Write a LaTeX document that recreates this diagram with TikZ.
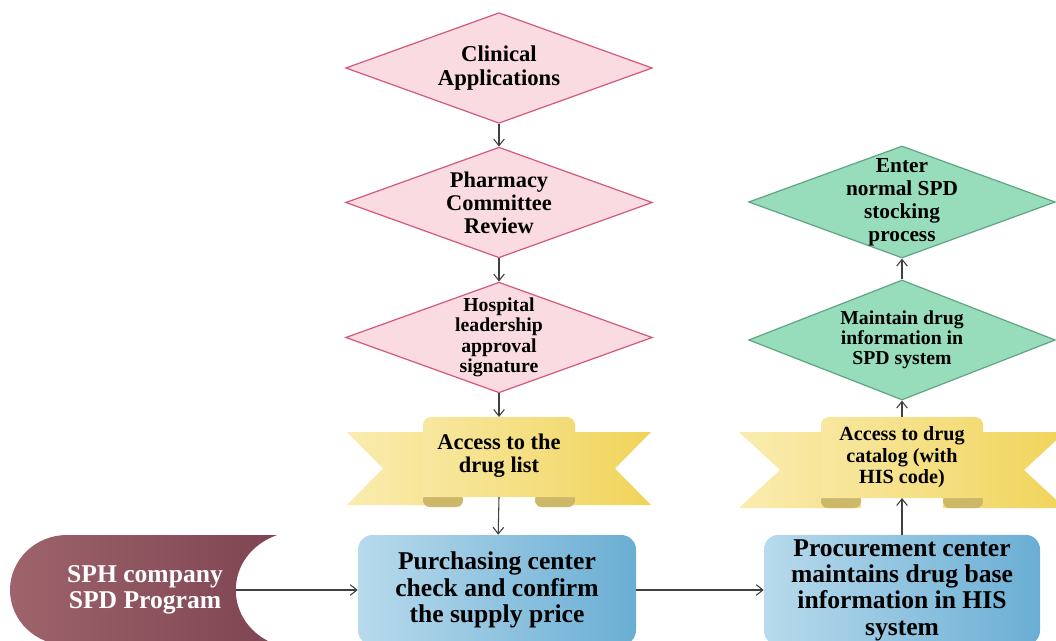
\documentclass[tikz,border=0pt]{standalone}
\usepackage{fontspec}
\setmainfont{Liberation Serif}
\usetikzlibrary{arrows.meta,shapes.geometric,positioning}
\definecolor{pinkfill}{HTML}{FADBE1}
\definecolor{pinkline}{HTML}{D4587A}
\definecolor{greenfill}{HTML}{97DDBC}
\definecolor{greenline}{HTML}{5FA483}
\definecolor{boxL}{HTML}{B8DAEC}
\definecolor{boxR}{HTML}{6AAED4}
\definecolor{ribL}{HTML}{FAECB0}
\definecolor{ribR}{HTML}{F0D45A}
\definecolor{ribfold}{HTML}{CDB868}
\definecolor{sphL}{HTML}{9E636B}
\definecolor{sphR}{HTML}{7E4552}
\definecolor{arrgray}{HTML}{404040}
\tikzset{
  dia/.style={diamond, draw=#1line, fill=#1fill, line width=0.9pt, aspect=2.77,
              inner sep=-14pt, minimum width=230pt, minimum height=83pt, align=center},
  procbox/.style={rectangle, rounded corners=11pt, left color=boxL, right color=boxR,
                  align=center, minimum height=82.5pt,
                  font=\bfseries\fontsize{19.2}{19.8}\selectfont},
  ribtext/.style={align=center, inner sep=0pt},
  arr/.style={-{Straight Barb[length=5pt,width=8pt]}, line width=0.8pt, draw=arrgray},
}

\begin{document}
\begin{tikzpicture}[x=0.75pt, y=-0.75pt]
  \useasboundingbox (0,0) rectangle (1056,641);

  % left column: approval steps
  \node[dia=pink, font=\bfseries\fontsize{17}{18}\selectfont] (clin) at (499,68)
    {Clinical\\Applications};
  \node[dia=pink, font=\bfseries\fontsize{16.8}{17.3}\selectfont] (pharm) at (499,202.5)
    {Pharmacy\\Committee\\Review};
  \node[dia=pink, font=\bfseries\fontsize{14.8}{15.4}\selectfont] (hosp) at (499,337.5)
    {Hospital\\leadership\\approval\\signature};

  % right column
  \node[dia=green, minimum height=84pt, font=\bfseries\fontsize{16}{17.3}\selectfont] (enter) at (902,202)
    {Enter\\normal SPD\\stocking\\process};
  \node[dia=green, minimum height=90pt, font=\bfseries\fontsize{14.8}{15}\selectfont] (maint) at (902,340)
    {Maintain drug\\information in\\SPD system};

  % ribbon 1
  \begin{scope}[shift={(499,0)}]
    \shade[left color=ribL, right color=ribL!60!ribR] (-152,432) -- (-40,432) -- (-40,505)
      -- (-152,505) -- (-116,468.5) -- cycle;
    \shade[left color=ribL!40!ribR, right color=ribR] (152,432) -- (40,432) -- (40,505)
      -- (152,505) -- (116,468.5) -- cycle;
    \fill[ribfold, rounded corners=5pt] (-76,493) rectangle (-36,507);
    \fill[ribfold, rounded corners=5pt] (36,493) rectangle (76,507);
    \shade[left color=ribL!80!ribR, right color=ribL!30!ribR, rounded corners=6pt]
      (-76,497) -- (-76,417) -- (76,417) -- (76,497);
  \end{scope}
  \coordinate (rib1top) at (499,417);
  \coordinate (rib1bot) at (499,497);
  \node[ribtext, font=\bfseries\fontsize{16.8}{17.3}\selectfont] (rib1) at (499,456)
    {Access to the\\drug list};

  % ribbon 2
  \begin{scope}[shift={(902,0)}]
    \shade[left color=ribL, right color=ribL!60!ribR] (-163,432) -- (-41,432) -- (-41,508)
      -- (-163,508) -- (-122,470) -- cycle;
    \shade[left color=ribL!40!ribR, right color=ribR] (163,432) -- (41,432) -- (41,508)
      -- (163,508) -- (122,470) -- cycle;
    \fill[ribfold, rounded corners=5pt] (-81,494) rectangle (-41,508);
    \fill[ribfold, rounded corners=5pt] (41,494) rectangle (81,508);
    \shade[left color=ribL!80!ribR, right color=ribL!30!ribR, rounded corners=6pt]
      (-81,498) -- (-81,417) -- (81,417) -- (81,498);
  \end{scope}
  \coordinate (rib2top) at (902,417);
  \coordinate (rib2bot) at (902,498);
  \node[ribtext, font=\bfseries\fontsize{15.1}{16.1}\selectfont] (rib2) at (902,457.5)
    {Access to drug\\catalog (with\\HIS code)};

  % SPH program shape
  \shade[left color=sphL, right color=sphR]
    (67,535) -- (277,535) .. controls (222,555) and (222,625) .. (277,645)
    -- (67,645) .. controls (35.5,645) and (10,620.4) .. (10,590)
    .. controls (10,559.6) and (35.5,535) .. (67,535) -- cycle;
  \node[text=white, align=center, font=\bfseries\fontsize{19.2}{19.5}\selectfont] (sph) at (145,590)
    {SPH company\\SPD Program};
  \coordinate (sphout) at (236,590);

  % bottom boxes
  \node[procbox, minimum width=208.5pt] (buy) at (497,590)
    {Purchasing center\\check and confirm\\the supply price};
  \node[procbox, minimum width=207pt] (keep) at (902,590)
    {Procurement center\\maintains drug base\\information in HIS\\system};

  \draw[arr] (clin) -- (pharm);
  \draw[arr] (pharm) -- (hosp);
  \draw[arr] (hosp) -- (rib1top);
  \draw[arr] (rib1bot) -- (buy);
  \draw[arr] (sphout) -- (buy);
  \draw[arr] (buy) -- (keep);
  \draw[arr] (keep) -- (rib2bot);
  \draw[arr] (rib2top) -- (maint);
  \draw[arr] (maint) -- (enter);
\end{tikzpicture}
\end{document}
